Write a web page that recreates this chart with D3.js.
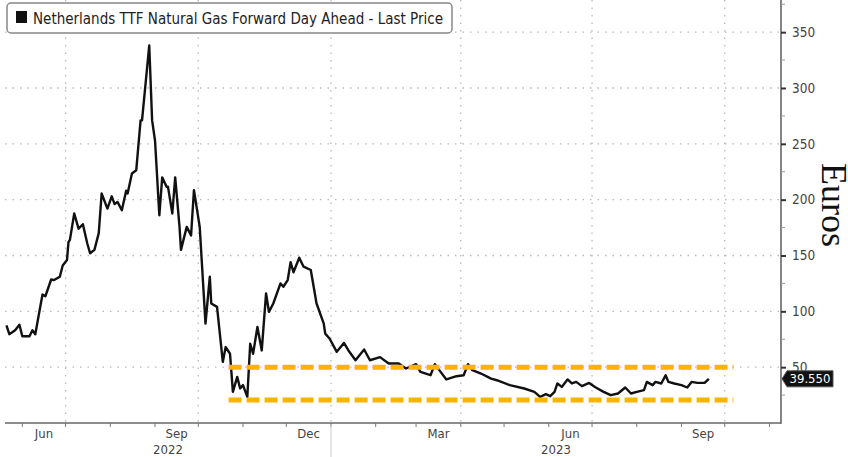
<!DOCTYPE html>
<html>
<head>
<meta charset="utf-8">
<script src="https://cdn.jsdelivr.net/npm/d3@7"></script>
<style>
  body { margin: 0; background: #fff; }
  svg { display: block; }
</style>
</head>
<body>
<div id="chart"></div>
<script>
// TTF day-ahead
var dates = [
  "2022-05-21","2022-05-23","2022-05-27","2022-05-30","2022-06-01","2022-06-06","2022-06-08","2022-06-10",
  "2022-06-13","2022-06-15","2022-06-17","2022-06-21","2022-06-23","2022-06-27","2022-06-29","2022-07-02",
  "2022-07-03","2022-07-04","2022-07-07","2022-07-10","2022-07-13","2022-07-16","2022-07-18","2022-07-21",
  "2022-07-24","2022-07-26","2022-07-30","2022-08-02","2022-08-04","2022-08-06","2022-08-09","2022-08-12",
  "2022-08-13","2022-08-16","2022-08-19","2022-08-22","2022-08-23","2022-08-28","2022-08-30","2022-09-01",
  "2022-09-02","2022-09-04","2022-09-06","2022-09-09","2022-09-10","2022-09-13","2022-09-15","2022-09-18",
  "2022-09-19","2022-09-23","2022-09-26","2022-09-28","2022-10-02","2022-10-06","2022-10-09","2022-10-10",
  "2022-10-14","2022-10-18","2022-10-20","2022-10-23","2022-10-25","2022-10-28","2022-10-30","2022-11-01",
  "2022-11-04","2022-11-06","2022-11-08","2022-11-11","2022-11-14","2022-11-17","2022-11-19","2022-11-22",
  "2022-11-27","2022-11-29","2022-12-02","2022-12-04","2022-12-06","2022-12-10","2022-12-13","2022-12-18",
  "2022-12-22","2022-12-27","2022-12-28","2022-12-31","2023-01-05","2023-01-10","2023-01-13","2023-01-18",
  "2023-01-24","2023-01-28","2023-02-04","2023-02-10","2023-02-17","2023-02-22","2023-03-01","2023-03-04",
  "2023-03-11","2023-03-14","2023-03-18","2023-03-22","2023-03-29","2023-04-03","2023-04-06","2023-04-09",
  "2023-04-15","2023-04-22","2023-04-26","2023-05-05","2023-05-15","2023-05-22","2023-05-26","2023-05-30",
  "2023-06-02","2023-06-05","2023-06-07","2023-06-10","2023-06-14","2023-06-17","2023-06-20","2023-06-24",
  "2023-06-29","2023-07-03","2023-07-09","2023-07-14","2023-07-19","2023-07-24","2023-07-28","2023-08-01",
  "2023-08-06","2023-08-08","2023-08-12","2023-08-14","2023-08-18","2023-08-21","2023-08-23","2023-08-27",
  "2023-09-01","2023-09-05","2023-09-08","2023-09-12","2023-09-17","2023-09-20"
];
var prices = [
  87.5, 79.5, 83, 88, 77.7, 77.7, 83, 79.5,
  101, 115, 113.5, 128.5, 128, 131, 141, 146,
  162, 164, 187.6, 174, 178, 161, 152, 155,
  170, 205.5, 192, 203, 196, 198, 190.5, 208,
  205.5, 223.4, 226.4, 271, 271, 338, 271, 253,
  231, 186, 220, 211.5, 211.5, 187.6, 220, 175.6,
  155, 175.6, 168, 208.5, 175.6, 89, 131, 107,
  104, 54.7, 68, 62, 27.9, 41.3, 31, 33.9,
  23.4, 71, 62, 86, 65, 116, 99.5, 107,
  125, 122, 128, 144, 135, 148, 140, 137,
  107, 89, 80, 75.7, 63.7, 71.7, 65.2, 56.2,
  65.8, 56.2, 59, 53.3, 53.3, 48.8, 52.7, 45.8,
  42.8, 52.7, 45.8, 39, 41.9, 42.8, 52.7, 47.3,
  44.3, 39.8, 38.3, 33.9, 30.9, 27.9, 23.4, 25.8,
  24, 27.9, 35.4, 32.3, 39, 35.4, 36.8, 33,
  35.9, 32.3, 27.9, 24.9, 26.4, 31.8, 26.4, 27.9,
  29.4, 36.8, 33.9, 36.8, 35.4, 42.8, 36.8, 35.4,
  33.9, 31.8, 36.8, 35.9, 35.9, 39.55
];
var yTicks = [50, 100, 150, 200, 250, 300, 350];
var yMinorTicks = [25, 75, 125, 175, 225, 275, 325, 375];
var yearLabels = ["2022", "2023"];
var supportLevels = [50, 20.5];
var supportFrom = "2022-10-22", supportTo = "2023-10-07";
var lastPrice = 39.55;
var legendText = "Netherlands TTF Natural Gas Forward Day Ahead - Last Price";

var W = 848, H = 457;
var plotLeft = 5, plotRight = 781, plotTop = 0, plotBottom = 423;
var narrow = "'Liberation Sans Narrow', 'DejaVu Sans Condensed', sans-serif";
var parse = d3.timeParse("%Y-%m-%d");

var svg = d3.select("#chart").append("svg")
    .attr("width", W)
    .attr("height", H);

var x = d3.scaleTime()
    .domain([parse("2022-05-20"), parse("2023-11-09")])
    .range([plotLeft, plotRight]);
var y = d3.scaleLinear()
    .domain([0, 378.8])
    .range([plotBottom, plotTop]);

// dotted grid
var months = d3.timeMonth.range(parse("2022-06-01"), parse("2023-11-02"));
svg.selectAll("line.vgrid")
    .data(months.filter(function(d) { return d.getMonth() % 3 === 0; }))
    .enter().append("line")
    .attr("class", "vgrid")
    .attr("x1", function(d) { return x(d); })
    .attr("x2", function(d) { return x(d); })
    .attr("y1", plotTop)
    .attr("y2", plotBottom)
    .attr("stroke", "#b8b8b8")
    .attr("stroke-width", 1.3)
    .attr("stroke-dasharray", "1.5,6");

svg.selectAll("line.hgrid")
    .data(yTicks)
    .enter().append("line")
    .attr("class", "hgrid")
    .attr("x1", plotLeft)
    .attr("x2", plotRight)
    .attr("y1", function(d) { return y(d); })
    .attr("y2", function(d) { return y(d); })
    .attr("stroke", "#b8b8b8")
    .attr("stroke-width", 1.3)
    .attr("stroke-dasharray", "1.5,6");

// price line
var pts = dates.map(function(d, i) { return {date: parse(d), value: prices[i]}; });
var line = d3.line()
    .x(function(d) { return x(d.date); })
    .y(function(d) { return y(d.value); });

svg.append("path")
    .datum(pts)
    .attr("d", line)
    .attr("fill", "none")
    .attr("stroke", "#111")
    .attr("stroke-width", 2.4)
    .attr("stroke-linejoin", "round");

// support / resistance dashes with a soft shadow
var defs = svg.append("defs");
defs.append("filter").attr("id", "blur")
    .append("feGaussianBlur").attr("stdDeviation", 1.2);

supportLevels.forEach(function(v) {
    svg.append("line")
        .attr("x1", x(parse(supportFrom)))
        .attr("x2", x(parse(supportTo)))
        .attr("y1", y(v) + 3)
        .attr("y2", y(v) + 3)
        .attr("stroke", "#8a8a99")
        .attr("stroke-opacity", 0.6)
        .attr("stroke-width", 4)
        .attr("stroke-dasharray", "13,5")
        .attr("filter", "url(#blur)");
    svg.append("line")
        .attr("x1", x(parse(supportFrom)))
        .attr("x2", x(parse(supportTo)))
        .attr("y1", y(v))
        .attr("y2", y(v))
        .attr("stroke", "#f7b500")
        .attr("stroke-width", 5)
        .attr("stroke-dasharray", "13,5");
});

// axes frame
svg.append("line")
    .attr("x1", plotLeft).attr("x2", plotRight)
    .attr("y1", plotBottom).attr("y2", plotBottom)
    .attr("stroke", "#666").attr("stroke-width", 1.6);
svg.append("line")
    .attr("x1", plotRight).attr("x2", plotRight)
    .attr("y1", plotTop).attr("y2", plotBottom + 0.8)
    .attr("stroke", "#666").attr("stroke-width", 1.6);

// y axis on the right
var yAxis = d3.axisRight(y)
    .tickValues(yTicks)
    .tickSize(5)
    .tickPadding(6);
var gy = svg.append("g")
    .attr("transform", "translate(" + plotRight + ",0)")
    .call(yAxis);
gy.select(".domain").remove();
gy.selectAll(".tick line").attr("stroke", "#333").attr("stroke-width", 2);
gy.selectAll(".tick text")
    .attr("fill", "#444")
    .style("font-family", narrow)
    .style("font-size", "13.5px");

svg.selectAll("line.yminor")
    .data(yMinorTicks)
    .enter().append("line")
    .attr("class", "yminor")
    .attr("x1", plotRight).attr("x2", plotRight + 4)
    .attr("y1", function(d) { return y(d); })
    .attr("y2", function(d) { return y(d); })
    .attr("stroke", "#999");

// x axis: monthly ticks, quarterly labels centred in the month
svg.selectAll("line.xtick")
    .data(months)
    .enter().append("line")
    .attr("class", "xtick")
    .attr("x1", function(d) { return x(d); })
    .attr("x2", function(d) { return x(d); })
    .attr("y1", plotBottom)
    .attr("y2", plotBottom + 4)
    .attr("stroke", "#777");

var fmt = d3.timeFormat("%b");
svg.selectAll("text.month")
    .data(months.filter(function(d) { return d.getMonth() % 3 === 2; }))
    .enter().append("text")
    .attr("class", "month")
    .attr("x", function(d) { return (x(d) + x(d3.timeMonth.offset(d, 1))) / 2; })
    .attr("y", plotBottom + 15)
    .attr("text-anchor", "middle")
    .attr("fill", "#444")
    .style("font-family", narrow)
    .style("font-size", "13px")
    .text(fmt);

var yearBreak = x(parse("2023-01-01"));
svg.append("line")
    .attr("x1", yearBreak).attr("x2", yearBreak)
    .attr("y1", plotBottom + 2).attr("y2", H)
    .attr("stroke", "#ccc");

svg.selectAll("text.year")
    .data(yearLabels)
    .enter().append("text")
    .attr("class", "year")
    .attr("x", function(d, i) { return i === 0 ? (plotLeft + yearBreak) / 2 : (yearBreak + plotRight) / 2; })
    .attr("y", plotBottom + 31)
    .attr("text-anchor", "middle")
    .attr("fill", "#444")
    .style("font-family", narrow)
    .style("font-size", "13px")
    .text(function(d) { return d; });

// last price tag
var ty = y(lastPrice);
svg.append("path")
    .attr("d", "M " + (plotRight + 1) + "," + ty + " L " + (plotRight + 6) + "," + (ty - 8) +
               " L " + (plotRight + 52) + "," + (ty - 8) + " L " + (plotRight + 52) + "," + (ty + 8) +
               " L " + (plotRight + 6) + "," + (ty + 8) + " Z")
    .attr("fill", "#111")
    .attr("stroke", "#555");
svg.append("text")
    .attr("x", plotRight + 29)
    .attr("y", ty + 4.5)
    .attr("text-anchor", "middle")
    .attr("fill", "#fff")
    .style("font-family", narrow)
    .style("font-size", "13px")
    .text(lastPrice.toFixed(3));

// unit label
svg.append("text")
    .attr("transform", "translate(822,205) rotate(90)")
    .attr("text-anchor", "middle")
    .attr("fill", "#111")
    .style("font-family", "'Liberation Serif', 'DejaVu Serif', serif")
    .style("font-size", "36px")
    .text("Euros");

// legend
svg.append("rect")
    .attr("x", 7).attr("y", 3)
    .attr("width", 445).attr("height", 30)
    .attr("rx", 4)
    .attr("fill", "#fff")
    .attr("stroke", "#888")
    .attr("stroke-width", 1.5);
svg.append("rect")
    .attr("x", 16).attr("y", 11)
    .attr("width", 11).attr("height", 12)
    .attr("fill", "#111");
svg.append("text")
    .attr("x", 33).attr("y", 23.5)
    .attr("fill", "#222")
    .style("font-family", narrow)
    .style("font-size", "15px")
    .text(legendText);
</script>
</body>
</html>
